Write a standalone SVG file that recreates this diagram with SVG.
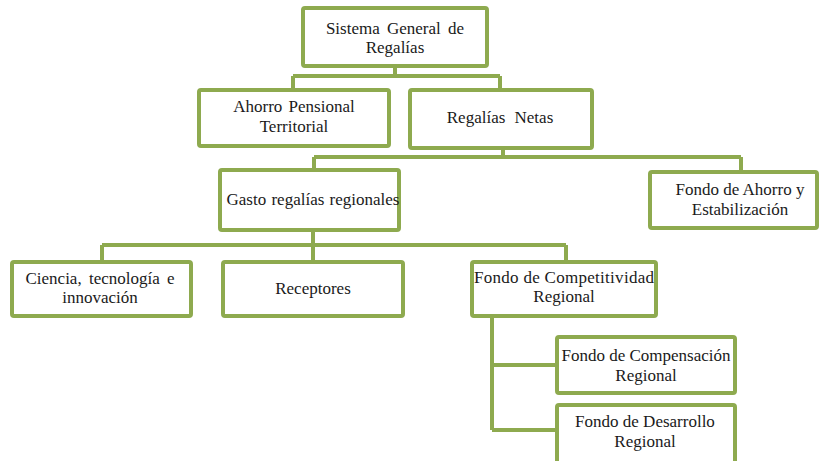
<svg xmlns="http://www.w3.org/2000/svg" width="819" height="461" viewBox="0 0 819 461">
<style>
.box{fill:#fff;stroke:#8eaa4f;stroke-width:4}
.con{fill:none;stroke:#8eaa4f;stroke-width:4}
.t text{fill:#1a1a1a;text-anchor:middle}
</style>
<rect width="819" height="461" fill="#fff"/>
<g id="connectors">
<path class="con" d="M395 67V76M293 76H500M293 76V90M500 76V90"/>
<path class="con" d="M503 150V157M314 157H741M314 157V170M741 157V172"/>
<path class="con" d="M313 232V245M102 245H566M102 245V260M313 245V260M566 245V260"/>
<path class="con" d="M492 318V430M492 365H557M492 430H557"/>
</g>
<g class="t" font-family="'Liberation Serif', 'DejaVu Serif', 'Times New Roman', serif" font-size="17">
<g id="n1"><rect class="box" x="303" y="8" width="184" height="58" rx="2"/><text x="395" y="34" word-spacing="3">Sistema General de</text><text x="395" y="53">Regalías</text></g>
<g id="n2"><rect class="box" x="199" y="90" width="190" height="56" rx="2"/><text x="294" y="112" word-spacing="2">Ahorro Pensional</text><text x="294" y="132">Territorial</text></g>
<g id="n3"><rect class="box" x="410" y="90" width="182" height="58" rx="2"/><text x="500" y="123" word-spacing="5">Regalías Netas</text></g>
<g id="n4"><rect class="box" x="220" y="170" width="179" height="60" rx="2"/><text x="313" y="205" word-spacing="1">Gasto regalías regionales</text></g>
<g id="n5"><rect class="box" x="650" y="172" width="167" height="56" rx="2"/><text x="740" y="195">Fondo de Ahorro y</text><text x="740" y="215">Estabilización</text></g>
<g id="n6"><rect class="box" x="12" y="262" width="179" height="54" rx="2"/><text x="100" y="284" word-spacing="3">Ciencia, tecnología e</text><text x="100" y="303">innovación</text></g>
<g id="n7"><rect class="box" x="223" y="262" width="180" height="54" rx="2"/><text x="313" y="294">Receptores</text></g>
<g id="n8"><rect class="box" x="472" y="262" width="184" height="54" rx="2"/><text x="564" y="283" textLength="180" lengthAdjust="spacing">Fondo de Competitividad</text><text x="564" y="302">Regional</text></g>
<g id="n9"><rect class="box" x="557" y="337" width="178" height="56" rx="2"/><text x="646" y="361">Fondo de Compensación</text><text x="646" y="381">Regional</text></g>
<g id="n10"><rect class="box" x="557" y="405" width="178" height="60" rx="2"/><text x="645" y="427">Fondo de Desarrollo</text><text x="645" y="447">Regional</text></g>
</g>
</svg>
